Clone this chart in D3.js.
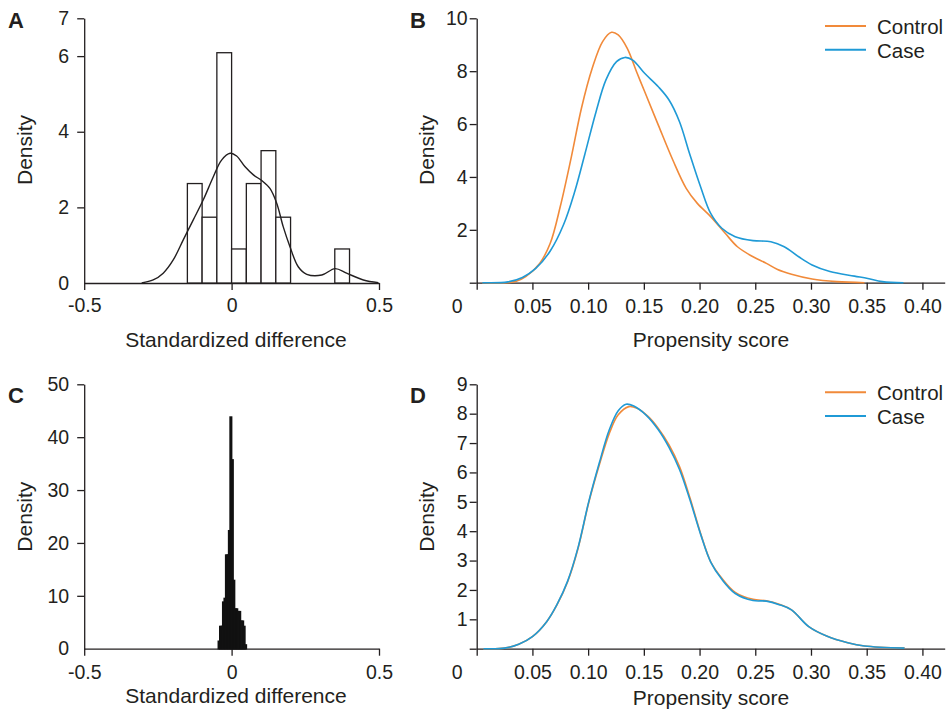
<!DOCTYPE html>
<html lang="en">
<head>
<meta charset="utf-8">
<title>Standardized difference and propensity score</title>
<script src="https://d3js.org/d3.v7.min.js"></script>
<style>
  body { margin: 0; background: #fff; }
  svg text { font-family: "Liberation Sans", Arial, sans-serif; fill: #231f20; }
  .axis path, .axis line { stroke: #231f20; stroke-width: 1.3; }
  .axis text { font-size: 19.5px; }
  .title { font-size: 21px; }
  .letter { font-size: 22px; font-weight: bold; }
  .legend { font-size: 20.5px; }
</style>
</head>
<body>
<div id="chart"></div>
<script>
"use strict"

// panel A: histogram of standardized differences (before matching) + density curve
var binStartA = [-0.15, -0.10, -0.05, 0, 0.05, 0.10, 0.15, 0.35];
var binWidthA = 0.05;
var densityA = [2.63, 1.74, 6.09, 0.9, 2.63, 3.5, 1.74, 0.9];
var kdeA = [[-0.305, 0], [-0.266, 0.08], [-0.232, 0.26], [-0.198, 0.61], [-0.164, 1.14],
  [-0.13, 1.67], [-0.096, 2.2], [-0.062, 2.81], [-0.034, 3.25], [-0.005, 3.43],
  [0.017, 3.36], [0.045, 3.08], [0.074, 2.86], [0.102, 2.71], [0.13, 2.5],
  [0.153, 2.11], [0.175, 1.49], [0.198, 0.96], [0.226, 0.43], [0.255, 0.23],
  [0.306, 0.21], [0.351, 0.38], [0.39, 0.26], [0.447, 0.08], [0.498, 0.01]];

// panel C: histogram after matching (narrow bins)
var binStartC = [-0.045, -0.04, -0.035, -0.03, -0.025, -0.02, -0.015, -0.01, -0.005, 0,
  0.005, 0.01, 0.015, 0.02, 0.025, 0.03, 0.035, 0.04, 0.045];
var binWidthC = 0.005;
var densityC = [1.4, 4.2, 4.2, 8.8, 9.5, 17.7, 17.7, 22.3, 43.8, 35.7,
  12.9, 7.5, 7.5, 7.0, 7.0, 5.2, 5.2, 4.2, 0.7];

// panel B: propensity score density before matching
var controlB = [[0.005, 0], [0.0345, 0.04], [0.044, 0.23], [0.0565, 0.73], [0.066, 1.49],
  [0.075, 2.88], [0.085, 4.77], [0.094, 6.6], [0.1036, 8.1], [0.113, 9.12],
  [0.121, 9.47], [0.127, 9.37], [0.135, 8.87], [0.144, 7.92], [0.1507, 7.23],
  [0.163, 5.96], [0.176, 4.64], [0.188, 3.57], [0.198, 3.0], [0.21, 2.5],
  [0.223, 1.87], [0.234, 1.36], [0.248, 0.98], [0.26, 0.73], [0.27, 0.5],
  [0.2825, 0.32], [0.301, 0.14], [0.323, 0.04], [0.348, 0]];
var caseB = [[0.005, 0], [0.028, 0.03], [0.041, 0.2], [0.053, 0.54], [0.066, 1.2],
  [0.078, 2.2], [0.088, 3.45], [0.097, 4.85], [0.107, 6.45], [0.116, 7.67],
  [0.1255, 8.36], [0.133, 8.52], [0.14, 8.42], [0.1507, 7.92], [0.163, 7.41],
  [0.1726, 6.91], [0.182, 6.09], [0.191, 4.89], [0.2009, 3.63], [0.21, 2.62],
  [0.22, 2.06], [0.232, 1.74], [0.248, 1.59], [0.264, 1.55], [0.276, 1.36],
  [0.289, 0.98], [0.301, 0.67], [0.317, 0.42], [0.339, 0.25], [0.351, 0.16],
  [0.364, 0.04], [0.383, 0]];

// panel D: propensity score density after matching
var controlD = [[0.006, 0], [0.025, 0.02], [0.0377, 0.15], [0.05, 0.41], [0.0628, 0.92],
  [0.072, 1.49], [0.0816, 2.28], [0.091, 3.42], [0.1004, 4.95], [0.11, 6.25],
  [0.119, 7.33], [0.127, 7.96], [0.1365, 8.24], [0.144, 8.18], [0.154, 7.9],
  [0.163, 7.5], [0.1726, 6.94], [0.182, 6.2], [0.1915, 5.12], [0.2009, 3.93],
  [0.21, 2.96], [0.22, 2.4], [0.232, 1.92], [0.248, 1.68], [0.26, 1.63],
  [0.2715, 1.51], [0.2825, 1.32], [0.298, 0.75], [0.314, 0.43], [0.333, 0.2],
  [0.348, 0.09], [0.384, 0.02]];
var caseD = [[0.006, 0], [0.025, 0.02], [0.0377, 0.15], [0.05, 0.41], [0.0628, 0.92],
  [0.072, 1.5], [0.0816, 2.3], [0.091, 3.45], [0.1004, 4.98], [0.11, 6.32],
  [0.119, 7.45], [0.127, 8.1], [0.134, 8.32], [0.141, 8.26], [0.152, 7.95],
  [0.163, 7.45], [0.1726, 6.85], [0.182, 6.1], [0.1915, 5.05], [0.2009, 3.9],
  [0.21, 2.95], [0.22, 2.36], [0.232, 1.88], [0.248, 1.64], [0.26, 1.62],
  [0.2715, 1.5], [0.2825, 1.32], [0.298, 0.75], [0.314, 0.43], [0.333, 0.2],
  [0.348, 0.09], [0.384, 0.02]];

// ticks and labels
var ticksStd = [-0.5, 0, 0.5];
var ticksPs = [0, 0.05, 0.10, 0.15, 0.20, 0.25, 0.30, 0.35, 0.40];
var ticksYA = [0, 2, 4, 6, 7];
var ticksYC = [0, 10, 20, 30, 40, 50];
var ticksYB = [0, 2, 4, 6, 8, 10];
var ticksYD = [0, 1, 2, 3, 4, 5, 6, 7, 8, 9];
var seriesNames = ["Control", "Case"];
var seriesColors = ["#f18a3a", "#1f9ad6"];

var svg = d3.select("#chart").append("svg")
  .attr("width", 948).attr("height", 715);

// draws axes, titles and letter for one panel, returns the scales
function panel(p) {
  var x = d3.scaleLinear().domain(p.xDomain).range(p.xRange);
  var y = d3.scaleLinear().domain(p.yDomain).range(p.yRange);
  var y0 = p.yRange[0];

  var gx = svg.append("g").attr("class", "axis")
    .attr("transform", "translate(0," + y0 + ")")
    .call(d3.axisBottom(x).tickValues(p.xTicks).tickSize(7).tickSizeOuter(0)
      .tickPadding(p.xPad).tickFormat(p.xFormat));
  var gy = svg.append("g").attr("class", "axis")
    .attr("transform", "translate(" + p.xRange[0] + ",0)")
    .call(d3.axisLeft(y).tickValues(p.yTicks).tickSize(7).tickSizeOuter(0)
      .tickPadding(p.yPad).tickFormat(d => String(d)));

  if (p.shareZero) {
    // origin labelled once, below and to the left of the corner
    gy.selectAll(".tick").filter(d => d === 0).select("text").remove();
    gx.selectAll(".tick").filter(d => d === 0).select("text").attr("x", -20);
  } else {
    gy.selectAll(".tick").filter(d => d === 0).select("line").remove();
  }
  svg.selectAll(".axis .domain").attr("fill", "none");

  svg.append("text").attr("class", "title")
    .attr("text-anchor", "middle")
    .attr("x", p.titleX).attr("y", p.titleY)
    .text(p.xTitle);
  svg.append("text").attr("class", "title")
    .attr("text-anchor", "middle")
    .attr("dominant-baseline", "central")
    .attr("transform", "translate(" + p.densX + "," + p.densY + ") rotate(-90)")
    .text("Density");
  svg.append("text").attr("class", "letter")
    .attr("x", p.letterX).attr("y", p.letterY)
    .text(p.letter);
  return {x: x, y: y};
}

function histogram(s, starts, width, dens, sw, stroke) {
  svg.append("g").selectAll("rect")
    .data(starts)
    .enter().append("rect")
      .attr("x", d => s.x(d))
      .attr("width", d => s.x(d + width) - s.x(d))
      .attr("y", (d, i) => s.y(dens[i]))
      .attr("height", (d, i) => s.y(0) - s.y(dens[i]))
      .attr("fill", "#fff")
      .attr("stroke", stroke)
      .attr("stroke-width", sw);
}

function curve(s, pts, color, w) {
  var line = d3.line().x(d => s.x(d[0])).y(d => s.y(d[1]))
    .curve(d3.curveCatmullRom.alpha(0.5));
  svg.append("path").datum(pts)
    .attr("d", line)
    .attr("fill", "none")
    .attr("stroke", color)
    .attr("stroke-width", w)
    .attr("stroke-linejoin", "round");
}

function legend(top) {
  seriesNames.forEach(function (name, i) {
    var yy = top + i * 23.7;
    svg.append("line")
      .attr("x1", 825).attr("x2", 866)
      .attr("y1", yy).attr("y2", yy)
      .attr("stroke", seriesColors[i]).attr("stroke-width", 2);
    svg.append("text").attr("class", "legend")
      .attr("x", 877).attr("y", yy + 8)
      .text(name);
  });
}

var fmtStd = d => String(d);
var fmtPs = d => d === 0 ? "0" : d3.format(".2f")(d);

// A
var sA = panel({xDomain: [-0.5, 0.5], xRange: [84.2, 379], yDomain: [0, 7], yRange: [283, 18.3],
  xTicks: ticksStd, yTicks: ticksYA, xFormat: fmtStd, xPad: 8, yPad: 8, shareZero: false,
  xTitle: "Standardized difference", titleX: 236, titleY: 346.5,
  densX: 24, densY: 150, letter: "A", letterX: 8, letterY: 28});
histogram(sA, binStartA, binWidthA, densityA, 1.3, "#231f20");
curve(sA, kdeA, "#231f20", 1.4);

// C
var sC = panel({xDomain: [-0.5, 0.5], xRange: [84.2, 379], yDomain: [0, 50], yRange: [648.7, 384.3],
  xTicks: ticksStd, yTicks: ticksYC, xFormat: fmtStd, xPad: 9.5, yPad: 8, shareZero: false,
  xTitle: "Standardized difference", titleX: 236, titleY: 703,
  densX: 24, densY: 516.7, letter: "C", letterX: 8, letterY: 403});
histogram(sC, binStartC, binWidthC, densityC, 1.6, "#111");

// B
var sB = panel({xDomain: [0, 0.42], xRange: [476.7, 944.7], yDomain: [0, 10], yRange: [282.7, 18.3],
  xTicks: ticksPs, yTicks: ticksYB, xFormat: fmtPs, xPad: 9.5, yPad: 2, shareZero: true,
  xTitle: "Propensity score", titleX: 711, titleY: 346.5,
  densX: 426, densY: 150, letter: "B", letterX: 410, letterY: 28});
curve(sB, controlB, seriesColors[0], 1.6);
curve(sB, caseB, seriesColors[1], 1.6);
legend(26);

// D
var sD = panel({xDomain: [0, 0.42], xRange: [476.7, 944.7], yDomain: [0, 9], yRange: [648.7, 384.3],
  xTicks: ticksPs, yTicks: ticksYD, xFormat: fmtPs, xPad: 9, yPad: 2, shareZero: true,
  xTitle: "Propensity score", titleX: 711, titleY: 705,
  densX: 426, densY: 516.7, letter: "D", letterX: 410, letterY: 403});
curve(sD, controlD, seriesColors[0], 1.6);
curve(sD, caseD, seriesColors[1], 1.6);
legend(392.3);
</script>
</body>
</html>
